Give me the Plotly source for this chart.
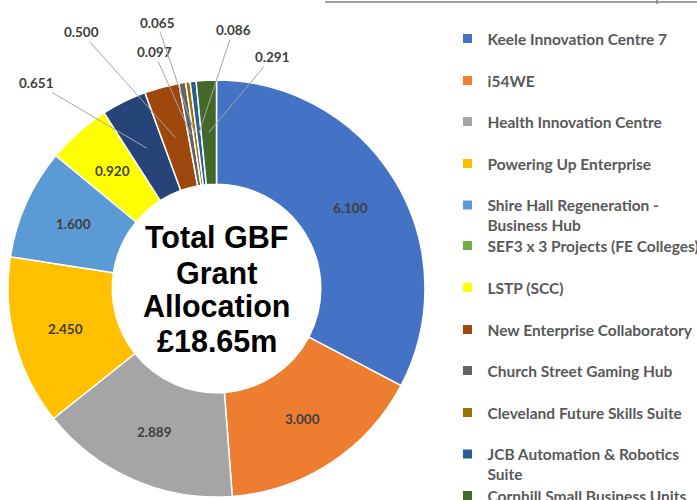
import math
import plotly.graph_objects as go

# ---------------- data ----------------
slice_labels = [
    "Keele Innovation Centre 7", "i54WE", "Health Innovation Centre",
    "Powering Up Enterprise", "Shire Hall Regeneration - Business Hub",
    "LSTP (SCC)", "SEF3 x 3 Projects (FE Colleges)", "New Enterprise Collaboratory",
    "Church Street Gaming Hub", "Cleveland Future Skills Suite",
    "JCB Automation & Robotics Suite", "Cornhill Small Business Units",
]
slice_values = [6.100, 3.000, 2.889, 2.450, 1.600, 0.920, 0.651, 0.500, 0.097, 0.065, 0.086, 0.291]
slice_colors = ["#4472C4", "#ED7D31", "#A5A5A5", "#FFC000", "#5B9BD5", "#FFFF00",
                "#264478", "#9E480E", "#636363", "#997300", "#255E91", "#43682B"]

legend_labels = [
    "Keele Innovation Centre 7", "i54WE", "Health Innovation Centre",
    "Powering Up Enterprise", "Shire Hall Regeneration -<br>Business Hub",
    "SEF3 x 3 Projects (FE Colleges)", "LSTP (SCC)", "New Enterprise Collaboratory",
    "Church Street Gaming Hub", "Cleveland Future Skills Suite",
    "JCB Automation & Robotics<br>Suite", "Cornhill Small Business Units",
]
legend_colors = ["#4472C4", "#ED7D31", "#A5A5A5", "#FFC000", "#5B9BD5", "#70AD47",
                 "#FFFF00", "#9E480E", "#636363", "#997300", "#255E91", "#43682B"]

center_lines = ["Total GBF", "Grant", "Allocation", "£18.65m"]

# ---------------- layout constants ----------------
W, H = 697, 500
CX, CY, R = 216.5, 288.5, 208.5
HOLE = 0.5
R_LABEL = R * (1 + HOLE) / 2

# outside label text centres (layout positions) for the small slices
outside_pos = {6: (36, 83), 7: (81, 32), 8: (154, 52), 9: (157, 23), 10: (233, 30), 11: (272, 57)}
legend_centers = [39, 81, 122, 164, 215.5, 246, 288, 330, 371, 413, 464.5, 496]
center_line_y = [237, 273, 306, 341]

fig = go.Figure()

fig.add_trace(go.Pie(
    labels=slice_labels, values=slice_values, sort=False, direction="clockwise",
    rotation=0, hole=HOLE, textinfo="none", showlegend=False,
    marker=dict(colors=slice_colors, line=dict(color="white", width=1.5)),
    domain=dict(x=[(CX - R) / W, (CX + R) / W], y=[(H - CY - R) / H, (H - CY + R) / H]),
    hovertemplate="%{label}: %{value:.3f}<extra></extra>",
))

# legend (one legend per entry so spacing matches)
layout_legends = {}
for i, (lab, col) in enumerate(zip(legend_labels, legend_colors)):
    lid = "legend" if i == 0 else f"legend{i + 1}"
    fig.add_trace(go.Scatter(
        x=[None], y=[None], mode="markers", name=lab, legend=lid,
        marker=dict(symbol="square", size=9, color=col, line=dict(width=0)),
        hoverinfo="skip",
    ))
    layout_legends[lid] = dict(
        x=0.642, xanchor="left", y=1 - legend_centers[i] / H, yanchor="middle",
        bgcolor="rgba(0,0,0,0)", valign="top", itemwidth=30,
        font=dict(family="Lato", size=15.5, color="#595959", weight=700),
    )

annotations = []
total = sum(slice_values)
cum = 0.0
for i, v in enumerate(slice_values):
    mid = (cum + v / 2) / total
    cum += v
    th = 2 * math.pi * mid
    px = CX + R_LABEL * math.sin(th)
    py = CY - R_LABEL * math.cos(th)
    txt = f"{v:.3f}"
    if i in outside_pos:
        tx, ty = outside_pos[i]
        annotations.append(dict(
            x=px, y=py, xref="x", yref="y", ax=tx, ay=ty, axref="x", ayref="y",
            text=txt, showarrow=True, arrowhead=0, arrowwidth=1, arrowcolor="#A6A6A6",
            standoff=0, startstandoff=0,
            font=dict(family="Lato", size=13.5, color="#404040", weight=700),
        ))
    else:
        annotations.append(dict(
            x=px, y=py, xref="x", yref="y", text=txt, showarrow=False,
            font=dict(family="Lato", size=13.5, color="#404040", weight=700),
        ))

for line, yy in zip(center_lines, center_line_y):
    annotations.append(dict(
        x=CX, y=yy, xref="x", yref="y", text=line, showarrow=False,
        font=dict(family="Liberation Sans", size=30.5, color="black", weight=700),
    ))

fig.update_layout(
    width=W, height=H,
    margin=dict(l=0, r=0, t=0, b=0, autoexpand=False),
    paper_bgcolor="white", plot_bgcolor="white",
    xaxis=dict(range=[0, W], visible=False, fixedrange=True),
    yaxis=dict(range=[H, 0], visible=False, fixedrange=True),
    annotations=annotations,
    shapes=[
        dict(type="line", xref="x", yref="y", x0=325, x1=W, y0=2, y1=2,
             line=dict(color="#7F7F7F", width=1.5)),
        dict(type="line", xref="x", yref="y", x0=657, x1=657, y0=0, y1=4,
             line=dict(color="#7F7F7F", width=1.5)),
    ],
    **layout_legends,
)

fig.write_html(
    "out.html",
    config={"displayModeBar": False},
    post_script="document.body.style.margin='0';document.body.style.overflow='hidden';",
)
